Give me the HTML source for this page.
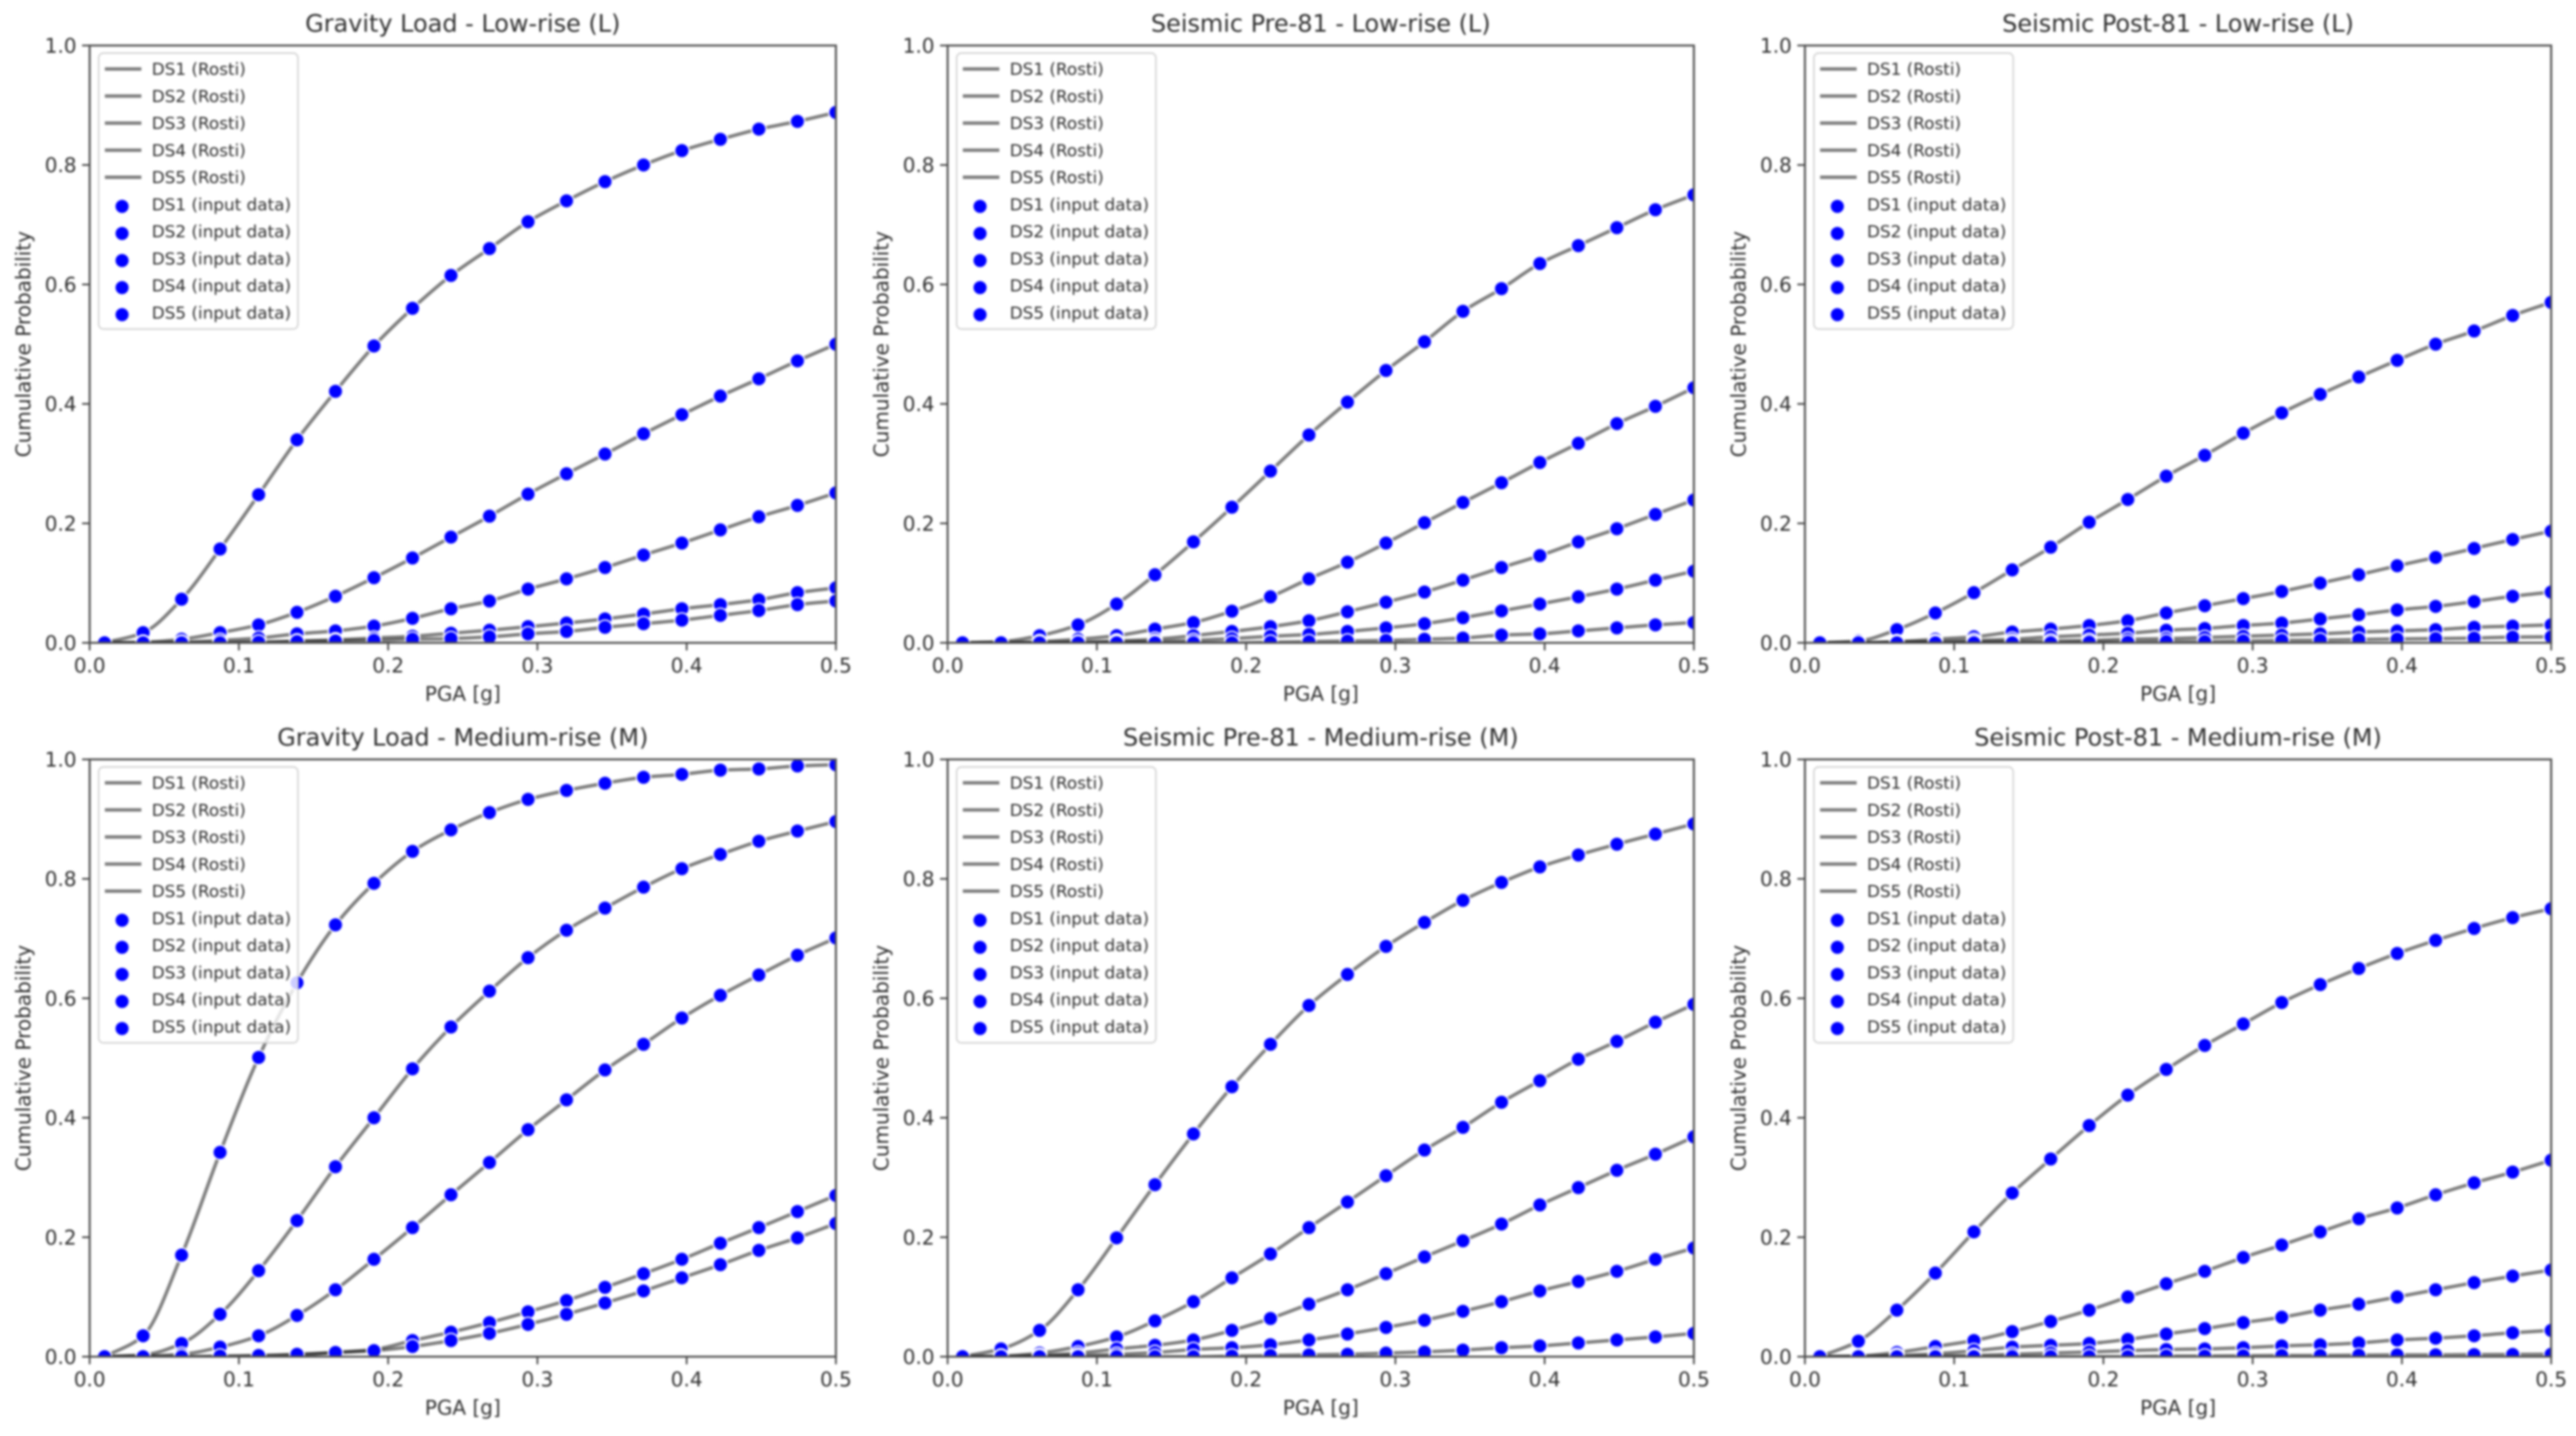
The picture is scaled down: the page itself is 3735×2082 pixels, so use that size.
<!DOCTYPE html>
<html lang="en">
<head>
<meta charset="utf-8">
<title>Fragility curves: Rosti vs input data</title>
<style>
html,body{margin:0;padding:0;background:#fff;width:3735px;height:2082px;overflow:hidden}
#chart-root{display:block;filter:blur(1.5px)}
text{font-family:"DejaVu Sans","Liberation Sans",sans-serif;fill:#2e2e2e}
</style>
</head>
<body>
<svg id="chart-root" xmlns="http://www.w3.org/2000/svg" width="3735" height="2082" viewBox="0 0 3735 2082"></svg>
<script>
const pgaValues = [0.01,0.0358,0.0616,0.0874,0.1132,0.1389,0.1647,0.1905,0.2163,0.2421,0.2679,0.2937,0.3195,0.3453,0.3711,0.3968,0.4226,0.4484,0.4742,0.5];
const xTickValues = [0,0.1,0.2,0.3,0.4,0.5];
const xTickLabels = ['0.0','0.1','0.2','0.3','0.4','0.5'];
const yTickValues = [0,0.2,0.4,0.6,0.8,1];
const yTickLabels = ['0.0','0.2','0.4','0.6','0.8','1.0'];
const damageStates = ['DS1','DS2','DS3','DS4','DS5'];
const panelTitles = ['Gravity Load - Low-rise (L)','Seismic Pre-81 - Low-rise (L)','Seismic Post-81 - Low-rise (L)','Gravity Load - Medium-rise (M)','Seismic Pre-81 - Medium-rise (M)','Seismic Post-81 - Medium-rise (M)'];

const gravityLow = [
[0,0.017,0.073,0.157,0.248,0.34,0.421,0.497,0.56,0.615,0.66,0.705,0.74,0.772,0.8,0.824,0.843,0.86,0.873,0.888],
[0,0.001,0.006,0.017,0.03,0.051,0.078,0.109,0.142,0.177,0.212,0.249,0.283,0.316,0.35,0.382,0.413,0.442,0.472,0.5],
[0,0,0.001,0.004,0.008,0.015,0.02,0.028,0.041,0.057,0.07,0.09,0.107,0.126,0.147,0.167,0.189,0.211,0.23,0.251],
[0,0,0,0,0.001,0.003,0.005,0.008,0.011,0.016,0.021,0.027,0.033,0.04,0.048,0.057,0.064,0.072,0.084,0.092],
[0,0,0,0,0.001,0.002,0.003,0.004,0.006,0.007,0.01,0.015,0.019,0.026,0.032,0.038,0.046,0.054,0.064,0.07]
];
const seismicPreLow = [
[0,0.002,0.012,0.03,0.065,0.114,0.169,0.227,0.2875,0.348,0.403,0.456,0.504,0.555,0.593,0.635,0.665,0.695,0.725,0.75],
[0,0,0.002,0.006,0.012,0.023,0.034,0.053,0.077,0.107,0.135,0.167,0.201,0.235,0.268,0.302,0.334,0.367,0.396,0.427],
[0,0,0,0.001,0.003,0.006,0.012,0.019,0.027,0.037,0.052,0.068,0.085,0.105,0.126,0.146,0.169,0.191,0.215,0.239],
[0,0,0,0,0.001,0.002,0.004,0.007,0.011,0.014,0.019,0.025,0.032,0.042,0.0535,0.065,0.077,0.09,0.105,0.12],
[0,0,0,0,0,0,0,0,0.001,0.002,0.003,0.004,0.006,0.008,0.013,0.015,0.02,0.025,0.03,0.034]
];
const seismicPostLow = [
[0,0.003,0.022,0.05,0.084,0.122,0.16,0.202,0.24,0.279,0.314,0.351,0.385,0.416,0.445,0.473,0.5,0.522,0.548,0.57],
[0,0,0.002,0.006,0.01,0.018,0.023,0.029,0.037,0.05,0.062,0.074,0.086,0.1,0.114,0.129,0.143,0.158,0.173,0.187],
[0,0,0.001,0.002,0.004,0.006,0.01,0.013,0.016,0.021,0.024,0.029,0.033,0.04,0.047,0.055,0.061,0.069,0.078,0.085],
[0,0,0,0,0.001,0.002,0.003,0.004,0.006,0.007,0.009,0.011,0.013,0.015,0.018,0.02,0.022,0.026,0.028,0.03],
[0,0,0,0,0,0,0,0.001,0.001,0.002,0.002,0.003,0.004,0.0045,0.0055,0.0065,0.007,0.008,0.0096,0.01]
];
const gravityMedium = [
[0,0.035,0.17,0.342,0.501,0.626,0.723,0.7925,0.846,0.882,0.911,0.933,0.948,0.96,0.97,0.975,0.982,0.984,0.989,0.991],
[0,0.003,0.022,0.071,0.144,0.228,0.318,0.4,0.482,0.552,0.612,0.668,0.714,0.751,0.786,0.817,0.841,0.863,0.88,0.896],
[0,0.001,0.004,0.016,0.035,0.069,0.112,0.163,0.216,0.271,0.325,0.38,0.43,0.48,0.523,0.567,0.605,0.639,0.672,0.701],
[0,0,0,0,0.001,0.003,0.007,0.012,0.027,0.041,0.057,0.075,0.094,0.116,0.139,0.163,0.19,0.216,0.243,0.27],
[0,0,0,0.001,0.002,0.004,0.007,0.01,0.017,0.027,0.039,0.054,0.071,0.09,0.11,0.132,0.154,0.178,0.199,0.223]
];
const seismicPreMedium = [
[0,0.013,0.044,0.112,0.199,0.288,0.373,0.452,0.523,0.588,0.64,0.687,0.727,0.764,0.794,0.82,0.84,0.858,0.875,0.892],
[0,0.001,0.006,0.017,0.033,0.06,0.092,0.132,0.172,0.216,0.259,0.303,0.346,0.384,0.426,0.462,0.498,0.528,0.56,0.59],
[0,0,0.002,0.006,0.013,0.019,0.028,0.044,0.064,0.088,0.112,0.139,0.167,0.194,0.222,0.254,0.283,0.312,0.339,0.368],
[0,0,0.001,0.002,0.004,0.007,0.012,0.015,0.02,0.028,0.038,0.049,0.061,0.076,0.092,0.11,0.126,0.143,0.163,0.182],
[0,0,0,0,0,0,0,0.001,0.002,0.003,0.004,0.006,0.008,0.011,0.015,0.018,0.023,0.028,0.033,0.039]
];
const seismicPostMedium = [
[0,0.026,0.078,0.14,0.209,0.274,0.331,0.387,0.438,0.481,0.521,0.557,0.593,0.623,0.65,0.675,0.697,0.717,0.735,0.75],
[0,0.001,0.007,0.017,0.027,0.042,0.059,0.078,0.1,0.122,0.143,0.166,0.187,0.209,0.231,0.249,0.271,0.291,0.309,0.329],
[0,0,0.002,0.005,0.01,0.016,0.019,0.022,0.029,0.038,0.047,0.057,0.066,0.078,0.088,0.1,0.112,0.124,0.135,0.145],
[0,0,0,0.001,0.002,0.004,0.006,0.008,0.01,0.012,0.013,0.015,0.018,0.02,0.023,0.028,0.031,0.035,0.04,0.044],
[0,0,0,0,0,0,0,0,0,0.001,0.001,0.0015,0.002,0.002,0.0025,0.003,0.003,0.0035,0.0038,0.004]
];
const panelSeries = [gravityLow,seismicPreLow,seismicPostLow,gravityMedium,seismicPreMedium,seismicPostMedium];

const SVG_NS = 'http://www.w3.org/2000/svg';
const root = document.getElementById('chart-root');
const AXIS_W = 1082, AXIS_H = 866, X_MAX = 0.5, Y_MAX = 1;
const COLUMN_LEFT = [130,1374,2617];
const ROW_TOP = [66,1101];

function make(parent, tag, attrs, content){
  const node = document.createElementNS(SVG_NS, tag);
  for (const key in attrs) node.setAttribute(key, attrs[key]);
  if (content !== undefined) node.textContent = content;
  parent.appendChild(node);
  return node;
}
function xScale(left, v){ return left + v / X_MAX * AXIS_W; }
function yScale(top, v){ return top + AXIS_H - v / Y_MAX * AXIS_H; }

/* Monotone cubic path through the mapped data points, so the curves leave zero smoothly. */
function curvePath(xs, ys){
  const n = xs.length, secant = [], tangent = [];
  for (let i = 0; i < n - 1; i++) secant.push((ys[i + 1] - ys[i]) / (xs[i + 1] - xs[i]));
  tangent.push(secant[0]);
  for (let i = 1; i < n - 1; i++) {
    const a = secant[i - 1], b = secant[i];
    tangent.push(a * b <= 0 ? 0 : 2 * a * b / (a + b));
  }
  tangent.push(secant[n - 2]);
  let d = 'M' + xs[0].toFixed(1) + ' ' + ys[0].toFixed(1);
  for (let i = 0; i < n - 1; i++) {
    const h = (xs[i + 1] - xs[i]) / 3;
    d += 'C' + (xs[i] + h).toFixed(1) + ' ' + (ys[i] + tangent[i] * h).toFixed(1) + ' ' +
         (xs[i + 1] - h).toFixed(1) + ' ' + (ys[i + 1] - tangent[i + 1] * h).toFixed(1) + ' ' +
         xs[i + 1].toFixed(1) + ' ' + ys[i + 1].toFixed(1);
  }
  return d;
}

const defs = make(root, 'defs', {});

panelTitles.forEach(function(title, p){
  const left = COLUMN_LEFT[p % 3];
  const top = ROW_TOP[Math.floor(p / 3)];
  const series = panelSeries[p];
  const slug = 'panel-' + (p + 1);

  const g = make(root, 'g', {});
  
  

  const clip = make(defs, 'clipPath', {id: 'clip-' + p});
  make(clip, 'rect', {x: left, y: top, width: AXIS_W, height: AXIS_H});

  const titleNode = make(g, 'text', {x: left + AXIS_W / 2, y: top - 20, 'text-anchor': 'middle', 'font-size': 34.7}, title);
  
  

  const plot = make(g, 'g', {'clip-path': 'url(#clip-' + p + ')'});
  
  

  series.forEach(function(values, s){
    const xs = values.map(function(v, i){ return xScale(left, pgaValues[i]); });
    const ys = values.map(function(v){ return yScale(top, v); });
    const line = make(plot, 'path', {d: curvePath(xs, ys), fill: 'none', stroke: '#000', 'stroke-opacity': 0.5, 'stroke-width': 5, 'stroke-linejoin': 'round'});
    
    
  });

  series.forEach(function(values, s){
    values.forEach(function(v, i){
      const dot = make(plot, 'circle', {cx: xScale(left, pgaValues[i]).toFixed(1), cy: yScale(top, v).toFixed(1), r: 10.5, fill: '#0000ff', stroke: '#fff', 'stroke-width': 2});
      
      
    });
  });

  const spines = make(g, 'rect', {x: left, y: top, width: AXIS_W, height: AXIS_H, fill: 'none', stroke: '#555', 'stroke-width': 3});
  
  

  xTickValues.forEach(function(v, i){
    const x = xScale(left, v);
    const mark = make(g, 'line', {x1: x, x2: x, y1: top + AXIS_H, y2: top + AXIS_H + 11, stroke: '#444', 'stroke-width': 2.5});
    
    
    const label = make(g, 'text', {x: x, y: top + AXIS_H + 43, 'text-anchor': 'middle', 'font-size': 29}, xTickLabels[i]);
    
    
  });

  yTickValues.forEach(function(v, i){
    const y = yScale(top, v);
    const mark = make(g, 'line', {x1: left - 11, x2: left, y1: y, y2: y, stroke: '#444', 'stroke-width': 2.5});
    
    
    const label = make(g, 'text', {x: left - 19, y: y + 10.5, 'text-anchor': 'end', 'font-size': 29}, yTickLabels[i]);
    
    
  });

  const xTitle = make(g, 'text', {x: left + AXIS_W / 2, y: top + AXIS_H + 84, 'text-anchor': 'middle', 'font-size': 29}, 'PGA [g]');
  
  

  const yMid = top + AXIS_H / 2;
  const yTitleX = left - 86;
  const yTitle = make(g, 'text', {x: yTitleX, y: yMid, 'text-anchor': 'middle', 'font-size': 29, transform: 'rotate(-90 ' + yTitleX + ' ' + yMid + ')'}, 'Cumulative Probability');
  
  

  const legend = make(g, 'g', {});
  
  
  const legendBox = make(legend, 'rect', {x: left + 13, y: top + 11, width: 289, height: 400, rx: 7, ry: 7, fill: '#fff', 'fill-opacity': 0.8, stroke: '#ccc', 'stroke-opacity': 0.8, 'stroke-width': 2.4});
  
  

  damageStates.forEach(function(ds, i){
    const rowY = top + 34 + 39.25 * i;
    const swatch = make(legend, 'line', {x1: left + 22, x2: left + 75, y1: rowY, y2: rowY, stroke: '#000', 'stroke-opacity': 0.5, 'stroke-width': 5});
    
    
    const txt = make(legend, 'text', {x: left + 90, y: rowY + 8.5, 'font-size': 24.4}, ds + ' (Rosti)');
    
    
  });
  damageStates.forEach(function(ds, i){
    const rowY = top + 34 + 39.25 * (i + 5);
    const swatch = make(legend, 'circle', {cx: left + 47, cy: rowY + 3, r: 10.5, fill: '#0000ff', stroke: '#fff', 'stroke-width': 2});
    
    
    const txt = make(legend, 'text', {x: left + 90, y: rowY + 8.5, 'font-size': 24.4}, ds + ' (input data)');
    
    
  });
});
</script>
</body>
</html>
